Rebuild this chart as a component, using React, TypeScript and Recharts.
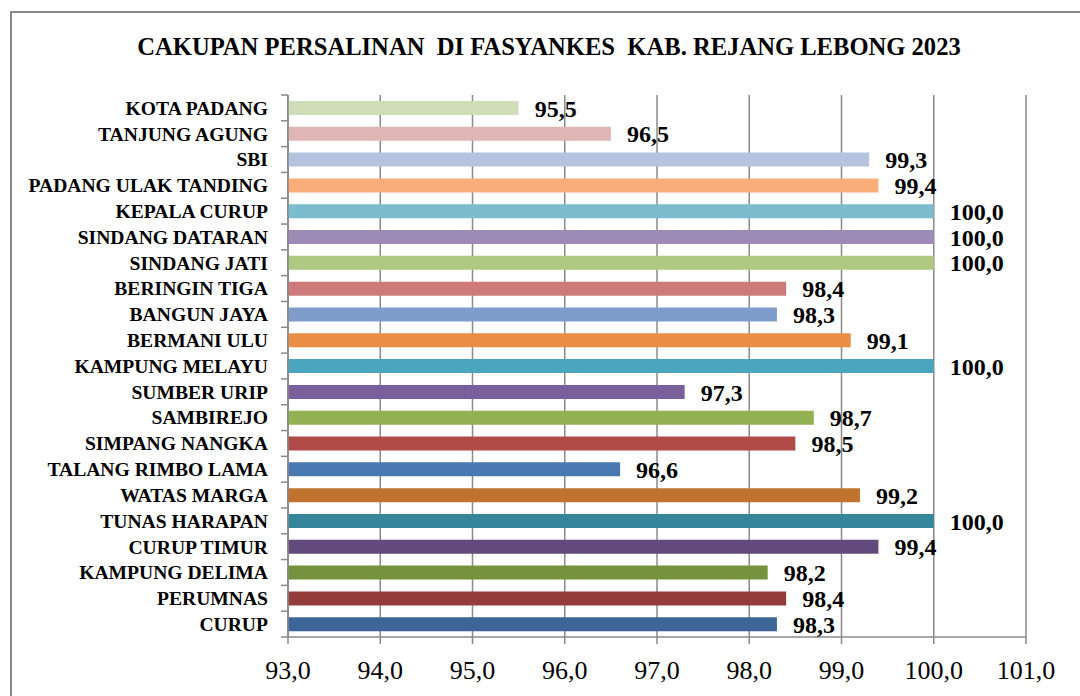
import { BarChart, Bar, XAxis, YAxis, CartesianGrid, Cell, LabelList } from "recharts";

const categories = [
  "KOTA PADANG",
  "TANJUNG AGUNG",
  "SBI",
  "PADANG ULAK TANDING",
  "KEPALA CURUP",
  "SINDANG DATARAN",
  "SINDANG JATI",
  "BERINGIN TIGA",
  "BANGUN JAYA",
  "BERMANI ULU",
  "KAMPUNG MELAYU",
  "SUMBER URIP",
  "SAMBIREJO",
  "SIMPANG NANGKA",
  "TALANG RIMBO LAMA",
  "WATAS MARGA",
  "TUNAS HARAPAN",
  "CURUP TIMUR",
  "KAMPUNG DELIMA",
  "PERUMNAS",
  "CURUP",
];

const values = [
  95.5, 96.5, 99.3, 99.4, 100.0, 100.0, 100.0, 98.4, 98.3, 99.1, 100.0,
  97.3, 98.7, 98.5, 96.6, 99.2, 100.0, 99.4, 98.2, 98.4, 98.3,
];

const barColors = [
  "#D0DDB9", "#DFB6B5", "#B5C3DE", "#F8AD7B", "#7CBCCF", "#9D8AB7", "#AFC882",
  "#CC7B7A", "#7F9DCB", "#E98E44", "#4AA5BE", "#785F9B", "#93B152", "#B14B48",
  "#4A78B0", "#C0722F", "#36869B", "#624B7C", "#76923E", "#943C3B", "#3D6597",
];

const xTicks = [93, 94, 95, 96, 97, 98, 99, 100, 101];

const data = categories.map((name, i) => ({ name, value: values[i] }));

const FONT = '"Liberation Serif", serif';
const AXIS_X = 288;
const PLOT_TOP = 95;
const PLOT_BOTTOM = 637;
const GRAY = "#8a8a8a";

const fmt = (v: number) => v.toFixed(1).replace(".", ",");

const CategoryTick = (props: any) => {
  const { x, y, payload, index } = props;
  const band = (PLOT_BOTTOM - PLOT_TOP) / categories.length;
  const yTop = y - band / 2;
  const yBot = y + band / 2;
  return (
    <g>
      <line x1={AXIS_X - 7} x2={AXIS_X} y1={yTop} y2={yTop} stroke={GRAY} strokeWidth={1.5} />
      {index === categories.length - 1 && (
        <line x1={AXIS_X - 7} x2={AXIS_X} y1={yBot} y2={yBot} stroke={GRAY} strokeWidth={1.5} />
      )}
      <text x={x} y={y} dy="0.35em" textAnchor="end" fontFamily={FONT} fontWeight="bold" fontSize={19.6} fill="#000">
        {payload.value}
      </text>
    </g>
  );
};

const ValueLabel = (props: any) => {
  const { x, y, width, height, value } = props;
  return (
    <text
      x={x + width + 16}
      y={y + height / 2}
      dy="0.36em"
      textAnchor="start"
      fontFamily={FONT}
      fontWeight="bold"
      fontSize={24}
      fill="#000"
    >
      {fmt(value)}
    </text>
  );
};

export default function App() {
  return (
    <div style={{ position: "absolute", left: 0, top: 0, width: 1080, height: 696, background: "#fff", overflow: "hidden" }}>
      <div
        style={{
          position: "absolute",
          left: 10,
          top: 11,
          width: 1100,
          height: 720,
          borderLeft: `2px solid ${GRAY}`,
          borderTop: `2px solid ${GRAY}`,
        }}
      />
      <div
        style={{
          position: "absolute",
          left: 0,
          width: 1098,
          top: 33,
          textAlign: "center",
          fontFamily: FONT,
          fontWeight: "bold",
          fontSize: 24.6,
          whiteSpace: "pre",
          color: "#000",
        }}
      >
        {"CAKUPAN PERSALINAN  DI FASYANKES  KAB. REJANG LEBONG 2023"}
      </div>
      <div style={{ position: "absolute", left: 0, top: 0 }}>
        <BarChart
          width={1080}
          height={696}
          data={data}
          layout="vertical"
          margin={{ top: PLOT_TOP, right: 54, bottom: 0, left: 8 }}
        >
          <CartesianGrid horizontal={false} stroke={GRAY} strokeWidth={1.5} />
          <XAxis
            type="number"
            domain={[93, 101]}
            ticks={xTicks}
            allowDataOverflow
            height={59}
            tickFormatter={fmt}
            axisLine={{ stroke: GRAY, strokeWidth: 1.5 }}
            tickLine={{ stroke: GRAY, strokeWidth: 1.5 }}
            tickSize={7}
            tickMargin={17}
            tick={{ fontFamily: FONT, fontSize: 26, fill: "#000" }}
          />
          <YAxis
            type="category"
            dataKey="name"
            width={280}
            axisLine={{ stroke: GRAY, strokeWidth: 1.5 }}
            tickLine={false}
            tickSize={6}
            tickMargin={14}
            interval={0}
            tick={<CategoryTick />}
          />
          <Bar dataKey="value" barSize={14} isAnimationActive={false}>
            {data.map((d, i) => (
              <Cell key={d.name} fill={barColors[i]} />
            ))}
            <LabelList dataKey="value" content={<ValueLabel />} />
          </Bar>
        </BarChart>
      </div>
    </div>
  );
}
